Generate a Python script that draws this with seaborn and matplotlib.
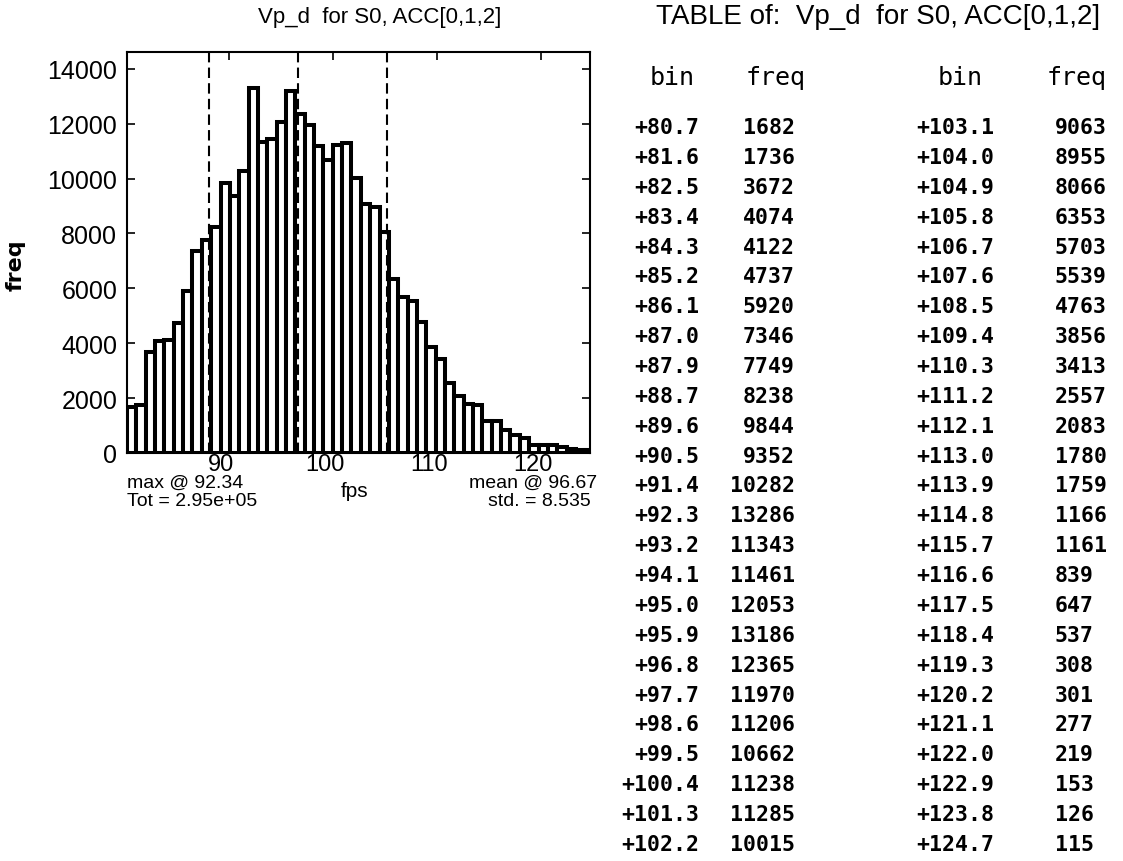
import numpy as np
import pandas as pd
import matplotlib
matplotlib.use("Agg")
import matplotlib.pyplot as plt
import matplotlib.transforms as mtransforms
import seaborn as sns

# histogram bins (fps) and counts, as printed in the table
bins = [80.7, 81.6, 82.5, 83.4, 84.3, 85.2, 86.1, 87.0, 87.9, 88.7,
        89.6, 90.5, 91.4, 92.3, 93.2, 94.1, 95.0, 95.9, 96.8, 97.7,
        98.6, 99.5, 100.4, 101.3, 102.2,
        103.1, 104.0, 104.9, 105.8, 106.7, 107.6, 108.5, 109.4, 110.3, 111.2,
        112.1, 113.0, 113.9, 114.8, 115.7, 116.6, 117.5, 118.4, 119.3, 120.2,
        121.1, 122.0, 122.9, 123.8, 124.7]
freqs = [1682, 1736, 3672, 4074, 4122, 4737, 5920, 7346, 7749, 8238,
         9844, 9352, 10282, 13286, 11343, 11461, 12053, 13186, 12365, 11970,
         11206, 10662, 11238, 11285, 10015,
         9063, 8955, 8066, 6353, 5703, 5539, 4763, 3856, 3413, 2557,
         2083, 1780, 1759, 1166, 1161, 839, 647, 537, 308, 301,
         277, 219, 153, 126, 115]

x_ticks = [90, 100, 110, 120]
y_ticks = [0, 2000, 4000, 6000, 8000, 10000, 12000, 14000]

stat_max = 92.34
stat_mean = 96.67
stat_std = 8.535
stat_tot = 2.95e5
title = "Vp_d  for S0, ACC[0,1,2]"

W, H = 1123, 862

def px(x, y):
    return x / W, 1 - y / H

sns.set_style("ticks")
plt.rcParams["font.family"] = ["Liberation Sans", "DejaVu Sans"]
plt.rcParams["text.color"] = "black"
plt.rcParams["xtick.color"] = "black"
plt.rcParams["ytick.color"] = "black"
plt.rcParams["axes.labelcolor"] = "black"

fig = plt.figure(figsize=(W / 100, H / 100), dpi=100)
ax = fig.add_axes([127 / W, 1 - 454 / H, (590 - 127) / W, (454 - 53) / H])

# bin edges from the (evenly spaced) centres
step = (bins[-1] - bins[0]) / (len(bins) - 1)
edges = np.linspace(bins[0] - step / 2, bins[-1] + step / 2, len(bins) + 1)

df = pd.DataFrame({"fps": bins, "freq": freqs})
sns.histplot(data=df, x="fps", weights="freq", bins=edges.tolist(), ax=ax,
             color="white", edgecolor="black", linewidth=2.9, alpha=1)

for xv in [stat_mean - stat_std, stat_mean, stat_mean + stat_std]:
    ax.axvline(xv, color="black", lw=1.5, linestyle=(0, (5, 2.5)))

ax.set_xlim(edges[0], bins[-1])
ax.set_ylim(0, 1.1 * max(freqs))
ax.set_xticks(x_ticks)
ax.set_yticks(y_ticks)
ax.set_xlabel("")
ax.set_ylabel("")
ax.tick_params(direction="in", top=True, right=True, length=6, width=1.2,
               colors="black")
ax.tick_params(axis="x", labelsize=17, pad=0)
ax.tick_params(axis="y", labelsize=18, pad=7)
shift = mtransforms.ScaledTranslation(-0.08, 0, fig.dpi_scale_trans)
for lab in ax.get_xticklabels():
    lab.set_transform(lab.get_transform() + shift)
for s in ax.spines.values():
    s.set_linewidth(1.5)
    s.set_color("black")

fig.text(*px(380, 17), title, ha="center", va="center", fontsize=16)
fig.text(*px(16, 265), "freq", rotation=90, ha="center", va="center",
         fontsize=16, fontweight="bold", family=["DejaVu Sans"])
fig.text(*px(355, 492), "fps", ha="center", va="center", fontsize=15)
fig.text(*px(127, 483), f"max @ {stat_max:.2f}", ha="left", va="center", fontsize=14)
fig.text(*px(127, 502), f"Tot = {stat_tot:.2e}", ha="left", va="center", fontsize=14)
fig.text(*px(597, 483), f"mean @ {stat_mean:.2f}", ha="right", va="center", fontsize=14)
fig.text(*px(488, 502), f"std. = {stat_std:.3f}", ha="left", va="center", fontsize=14)

# table of bins / counts
fig.text(*px(878, 17), "TABLE of:  " + title, ha="center", va="center", fontsize=20)
mono = ["DejaVu Sans Mono"]
half = len(bins) // 2
fig.text(*px(672, 78), "bin", ha="center", va="center", fontsize=18, family=mono)
fig.text(*px(776, 78), "freq", ha="center", va="center", fontsize=18, family=mono)
fig.text(*px(960, 78), "bin", ha="center", va="center", fontsize=18, family=mono)
fig.text(*px(1077, 78), "freq", ha="center", va="center", fontsize=18, family=mono)
y0, dy = 128, (845 - 128) / (half - 1)
for i in range(half):
    y = y0 + i * dy
    fig.text(*px(699, y), f"+{bins[i]:.1f}", ha="right", va="center",
             fontsize=15.5, family=mono, fontweight="bold")
    fig.text(*px(795, y), f"{freqs[i]}", ha="right", va="center",
             fontsize=15.5, family=mono, fontweight="bold")
    fig.text(*px(916, y), f"+{bins[half + i]:.1f}", ha="left", va="center",
             fontsize=15.5, family=mono, fontweight="bold")
    fig.text(*px(1055, y), f"{freqs[half + i]}", ha="left", va="center",
             fontsize=15.5, family=mono, fontweight="bold")

fig.savefig("out.png", dpi=100, facecolor="white")
